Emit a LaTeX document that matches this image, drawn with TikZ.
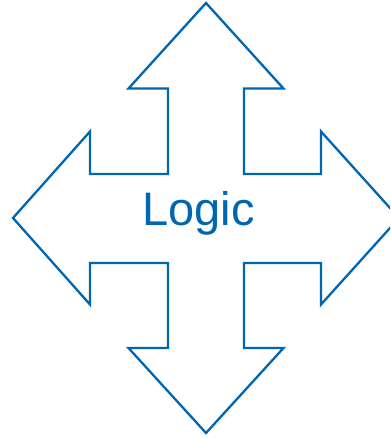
\documentclass[tikz,border=0pt]{standalone}
\usepackage{fontspec}
\setmainfont{Liberation Sans}
\usepackage{xcolor}
\usepackage{tikz}
\definecolor{logicblue}{HTML}{0066B2}

\begin{document}
\begin{tikzpicture}[x=1pt, y=-1pt, line join=miter,
  cross/.style={draw=logicblue, line width=2.3pt},
  label/.style={text=logicblue, font=\fontsize{47}{50}\selectfont, inner sep=0pt}]
% Frame of the picture (right tip runs past the edge)
\useasboundingbox (0,0) rectangle (390,438);
\clip (0,0) rectangle (390,438);

% Four-way arrow
\draw[cross] (206,3) -- (283.5,88.5) -- (244,88.5) -- (244,174)
  -- (321,174) -- (321,131.5) -- (399,218) -- (321,304.5) -- (321,263)
  -- (244,263) -- (244,348) -- (283.5,348) -- (206,433) -- (128.5,348)
  -- (168,348) -- (168,263) -- (90,263) -- (90,304.5) -- (13,218)
  -- (90,131.5) -- (90,174) -- (168,174) -- (168,88.5) -- (128.5,88.5) -- cycle;

% Label
\node[label, anchor=base] (logic) at (198.5,225) {Logic};
\end{tikzpicture}
\end{document}
